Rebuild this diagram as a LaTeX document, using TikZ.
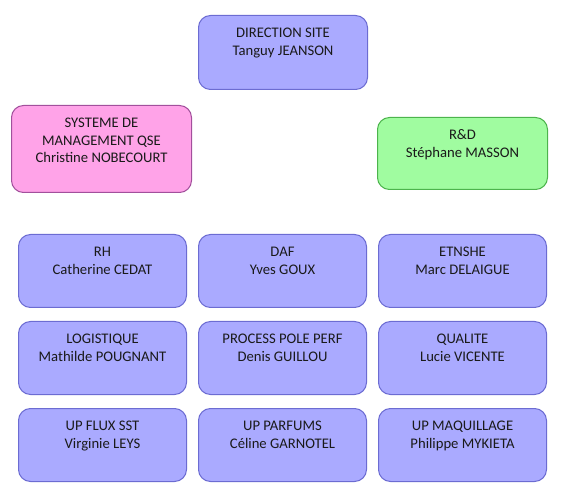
\documentclass[tikz,border=0pt]{standalone}
\usepackage{fontspec}
\setmainfont{Carlito}
\definecolor{bfill}{HTML}{AAAAFF}
\definecolor{bline}{HTML}{6C6CD2}
\definecolor{pfill}{HTML}{FFA3E8}
\definecolor{pline}{HTML}{A2509C}
\definecolor{gfill}{HTML}{A0FCA0}
\definecolor{gline}{HTML}{4CB44C}
\definecolor{txt}{HTML}{1A1A1A}
\begin{document}
\begin{tikzpicture}[x=0.75pt,y=-0.75pt,
  box/.style={draw, rounded corners=9pt, line width=0.75pt, inner sep=0pt, anchor=north west},
  bluebox/.style={box, fill=bfill, draw=bline, minimum width=126pt, minimum height=54.75pt},
  pinkbox/.style={box, fill=pfill, draw=pline},
  greenbox/.style={box, fill=gfill, draw=gline},
  lbl/.style={anchor=north, align=center, inner sep=0pt, text=txt, font=\fontsize{11}{13.3}\selectfont}]
\path[use as bounding box] (0,0) rectangle (564,495);
\fill[white] (0,0) rectangle (564,495);

% top
\node[bluebox, minimum width=126.75pt, minimum height=55.5pt] (dir) at (198,15) {};
\node[lbl] (dirT) at ([yshift=-7.2pt]dir.north) {\strut DIRECTION SITE\\Tanguy JEANSON};

\node[pinkbox, minimum width=135pt, minimum height=65.25pt] (qse) at (11,105) {};
\node[lbl] (qseT) at ([yshift=-7.2pt]qse.north) {\strut SYSTEME DE\\MANAGEMENT QSE\\Christine NOBECOURT};

\node[greenbox, minimum width=127.5pt, minimum height=54pt] (rd) at (377,117) {};
\node[lbl] (rdT) at ([yshift=-7.2pt]rd.north) {\strut R\&D\\Stéphane MASSON};

% row 1
\node[bluebox] (rh) at (18,234) {};
\node[lbl] (rhT) at ([yshift=-7.2pt]rh.north) {\strut RH\\Catherine CEDAT};
\node[bluebox] (daf) at (198,234) {};
\node[lbl] (dafT) at ([yshift=-7.2pt]daf.north) {\strut DAF\\Yves GOUX};
\node[bluebox] (ets) at (378,234) {};
\node[lbl] (etsT) at ([yshift=-7.2pt]ets.north) {\strut ETNSHE\\Marc DELAIGUE};

% row 2
\node[bluebox] (log) at (18,321) {};
\node[lbl] (logT) at ([yshift=-7.2pt]log.north) {\strut LOGISTIQUE\\Mathilde POUGNANT};
\node[bluebox] (proc) at (198,321) {};
\node[lbl] (procT) at ([yshift=-7.2pt]proc.north) {\strut PROCESS POLE PERF\\Denis GUILLOU};
\node[bluebox] (qual) at (378,321) {};
\node[lbl] (qualT) at ([yshift=-7.2pt]qual.north) {\strut QUALITE\\Lucie VICENTE};

% row 3
\node[bluebox] (flux) at (18,408) {};
\node[lbl] (fluxT) at ([yshift=-7.2pt]flux.north) {\strut UP FLUX SST\\Virginie LEYS};
\node[bluebox] (parf) at (198,408) {};
\node[lbl] (parfT) at ([yshift=-7.2pt]parf.north) {\strut UP PARFUMS\\Céline GARNOTEL};
\node[bluebox] (maq) at (378,408) {};
\node[lbl] (maqT) at ([yshift=-7.2pt]maq.north) {\strut UP MAQUILLAGE\\Philippe MYKIETA};
\end{tikzpicture}
\end{document}
